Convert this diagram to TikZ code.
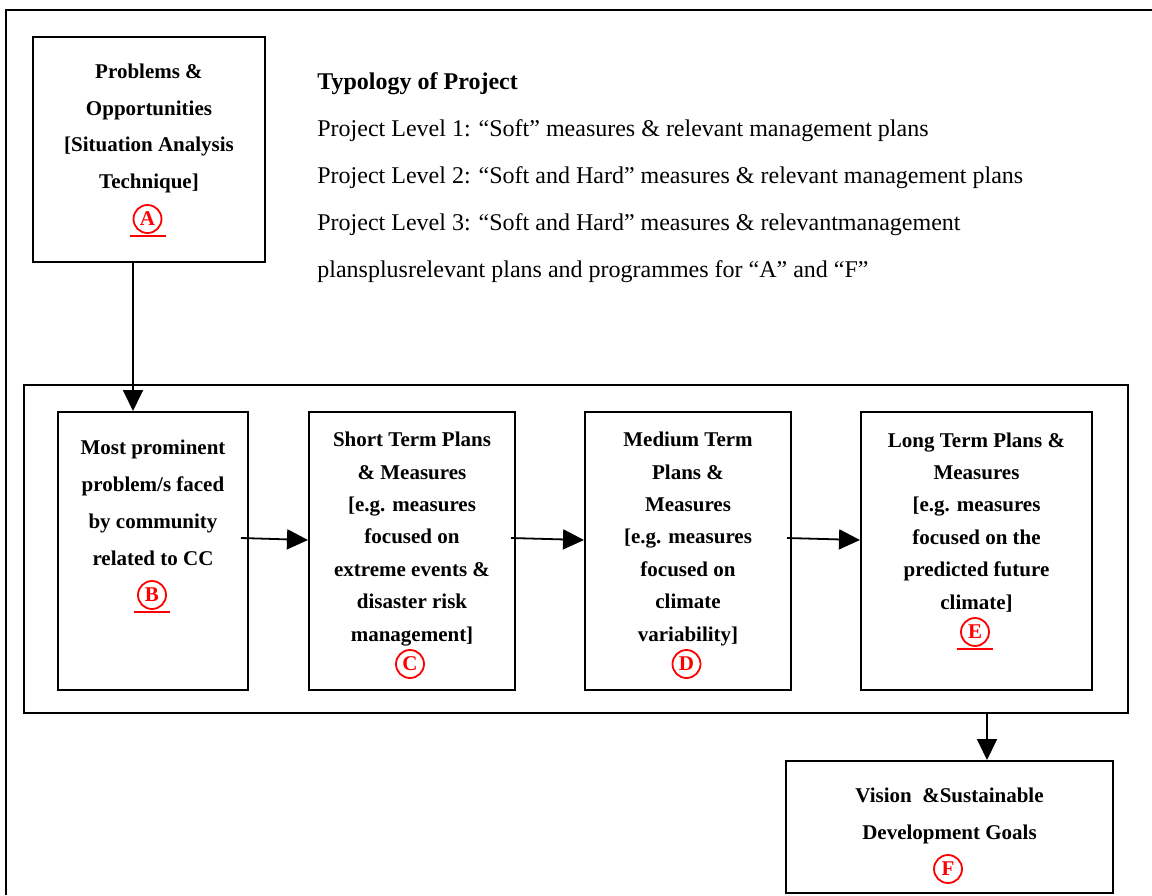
\documentclass[tikz,border=0pt]{standalone}
\usepackage{fontspec}
\setmainfont{Liberation Serif}
\usetikzlibrary{positioning,arrows.meta}

\begin{document}
\begin{tikzpicture}[x=0.5pt, y=-0.5pt, >={Triangle[length=10.5pt,width=10pt]},
  box/.style={draw, line width=1pt, inner sep=0pt},
  txt/.style={align=center, anchor=base, inner sep=0pt, font=\bfseries\fontsize{10.5}{#1}\selectfont},
  tag/.style={circle, draw=red, line width=0.9pt, text=red, inner sep=0pt, minimum size=14pt, font=\bfseries\fontsize{10.5}{12}\selectfont},
  uline/.style={red, line width=0.6pt},
  arr/.style={->, line width=0.9pt}]

\useasboundingbox (0,0) rectangle (1152,895);
\draw[line width=1.3pt] (6,895) -- (6,10) -- (1152,10);

% situation analysis
\node[box, minimum width=116pt, minimum height=112.5pt] (sit) at (149,149.5) {};
\node[txt=18.2pt] (sittext) at (149,188) {Problems \&\\Opportunities\\{[}Situation Analysis\\Technique]};
\node[tag] (sittag) at (147.5,219) {A};
\draw[uline] ([xshift=-9pt,yshift=-1pt]sittag.south) -- ([xshift=9pt,yshift=-1pt]sittag.south);

\node[anchor=base west, align=left, inner sep=0pt, font=\fontsize{12}{23.4}\selectfont] (typo) at (317,277)
  {\textbf{Typology of Project}\\
   Project Level 1: “Soft” measures \& relevant management plans\\
   Project Level 2: “Soft and Hard” measures \& relevant management plans\\
   Project Level 3: “Soft and Hard” measures \& relevantmanagement\\
   plansplusrelevant plans and programmes for “A” and “F”};

% plans
\node[box, minimum width=552pt, minimum height=164pt] (grp) at (576,549) {};

\node[box, minimum width=95pt, minimum height=139pt] (prob) at (153,551) {};
\node[txt=18.5pt] (probtext) at (153,565) {Most prominent\\problem/s faced\\by community\\related to CC};
\node[tag] (probtag) at (152,595) {B};
\draw[uline] ([xshift=-9pt,yshift=-1pt]probtag.south) -- ([xshift=9pt,yshift=-1pt]probtag.south);

\node[box, minimum width=103pt, minimum height=139pt] (short) at (412,551) {};
\node[txt=16.2pt] (shorttext) at (412,641) {Short Term Plans\\\& Measures\\{[}e.g. measures\\focused on\\extreme events \&\\disaster risk\\management]};
\node[tag] (shorttag) at (410,664) {C};

\node[box, minimum width=103pt, minimum height=139pt] (medium) at (688,551) {};
\node[txt=16.2pt] (mediumtext) at (688,641) {Medium Term\\Plans \&\\Measures\\{[}e.g. measures\\focused on\\climate\\variability]};
\node[tag] (mediumtag) at (686.5,664) {D};

\node[box, minimum width=115.5pt, minimum height=139pt] (long) at (976.5,551) {};
\node[txt=16.2pt] (longtext) at (976.5,609) {Long Term Plans \&\\Measures\\{[}e.g. measures\\focused on the\\predicted future\\climate]};
\node[tag] (longtag) at (975,632) {E};
\draw[uline] ([xshift=-9pt,yshift=-1pt]longtag.south) -- ([xshift=9pt,yshift=-1pt]longtag.south);

% goals
\node[box, minimum width=163.5pt, minimum height=66pt] (goal) at (949.5,827) {};
\node[txt=18.5pt] (goaltext) at (949.5,839) {Vision\ \ \&Sustainable\\Development Goals};
\node[tag] (goaltag) at (948,869) {F};

\draw[arr] ([xshift=-8pt]sit.south) -- ([xshift=-8pt]sit.south |- prob.north);
\draw[arr] ([xshift=-4pt,yshift=6.5pt]prob.east) -- ([yshift=5.5pt]short.west);
\draw[arr] ([xshift=-2.5pt,yshift=6.5pt]short.east) -- ([yshift=5.5pt]medium.west);
\draw[arr] ([xshift=-2.5pt,yshift=6.5pt]medium.east) -- ([yshift=5.5pt]long.west);
\draw[arr] ([xshift=5.25pt]long.south |- grp.south) -- ([xshift=5.25pt]long.south |- goal.north);

\end{tikzpicture}
\end{document}
